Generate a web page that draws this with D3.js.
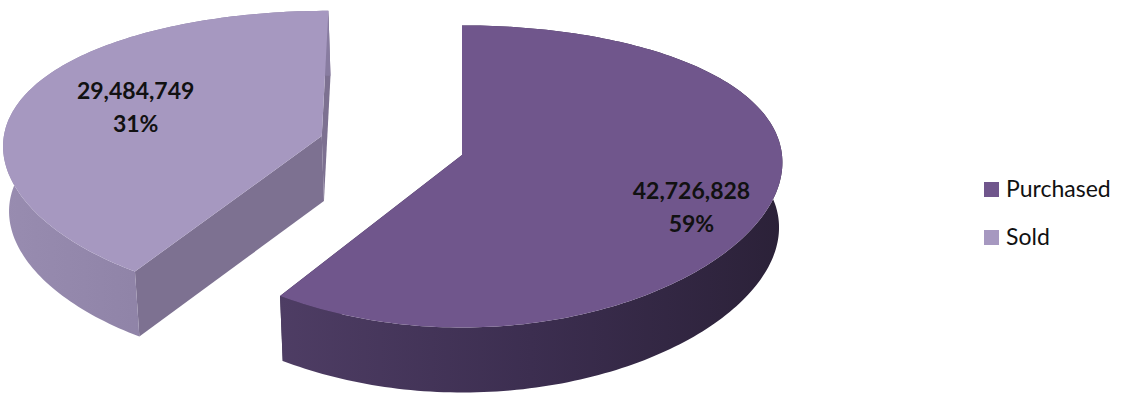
<!DOCTYPE html>
<html>
<head>
<meta charset="utf-8">
<script src="https://cdnjs.cloudflare.com/ajax/libs/d3/7.8.5/d3.min.js"></script>
<style>
  body { margin: 0; background: #fff; }
  #chart { width: 1137px; height: 396px; }
  .label { font-family: Lato, "Open Sans", sans-serif; font-weight: bold; font-size: 23px; fill: #111; }
  .legend text { font-family: Lato, "Open Sans", sans-serif; font-size: 23px; fill: #111; }
</style>
</head>
<body>
<div id="chart"></div>
<script>
// data
var categories = ["Purchased", "Sold"];
var values = [42726828, 29484749];
var percentLabels = ["59%", "31%"];
var explode = [0, 0.46];

var topColors = ["#70568c", "#a698c0"];
var sideColors = [["#4e3d64", "#3c2e50", "#2b2138"], ["#988cb0", "#8e82a6", "#887ca0"]];
var wallColors = ["#3a2c4c", "#7d7191"];

function draw() {
    var width = 1137, height = 396;

    // pseudo 3D projection of the pie disc
    var cx = 462, cy = 155, RX = 320, RZ = 148, PX = 0.05, PY = 0.142, H = 65;
    function proj(X, Z, bottom) {
        var fx = 1 / (1 - PX * Z), fy = 1 / (1 - PY * Z);
        var x = cx + RX * X * fx, y = cy + RZ * Z * fy;
        if (bottom) { y += H; x += (cx + 40 - x) * 0.012; }
        return [x, y];
    }
    function rimPt(a, r, off, bottom) {
        return proj(off.x + r * Math.sin(a), off.z - r * Math.cos(a), bottom);
    }
    function arcPts(a0, a1, off, bottom) {
        var n = Math.max(2, Math.ceil(Math.abs(a1 - a0) / 0.02)), pts = [];
        for (var i = 0; i <= n; i++) pts.push(rimPt(a0 + (a1 - a0) * i / n, 1, off, bottom));
        return pts;
    }
    var line = d3.line();

    var svg = d3.select("#chart").append("svg")
        .attr("width", width)
        .attr("height", height);
    var defs = svg.append("defs");

    var pie = d3.pie().sort(null).startAngle(0).endAngle(2 * Math.PI);
    var arcs = pie(values).map(function(d, i) {
        var mid = (d.startAngle + d.endAngle) / 2;
        d.off = { x: explode[i] * Math.sin(mid), z: -explode[i] * Math.cos(mid) };
        d.mid = mid;
        d.i = i;
        return d;
    });

    // paint back-left (exploded) slice first
    var order = arcs.slice().sort(function(a, b) { return explode[b.i] - explode[a.i]; });

    order.forEach(function(d) {
        var i = d.i, off = d.off;
        var g = svg.append("g").attr("class", "slice s-" + i);

        var apexT = proj(off.x, off.z, false), apexB = proj(off.x, off.z, true);

        // radial walls
        [d.startAngle, d.endAngle].forEach(function(a) {
            var rt = rimPt(a, 1, off, false), rb = rimPt(a, 1, off, true);
            g.append("path")
                .attr("d", line([apexT, rt, rb, apexB]) + "Z")
                .attr("fill", wallColors[i]);
        });

        // outer rim side
        var topArc = arcPts(d.startAngle, d.endAngle, off, false);
        var botArc = arcPts(d.startAngle, d.endAngle, off, true).reverse();
        var xs = topArc.map(function(p) { return p[0]; });
        var gid = "side-" + i;
        var grad = defs.append("linearGradient").attr("id", gid)
            .attr("gradientUnits", "userSpaceOnUse")
            .attr("x1", d3.min(xs)).attr("x2", d3.max(xs)).attr("y1", 0).attr("y2", 0);
        sideColors[i].forEach(function(c, k) {
            grad.append("stop").attr("offset", (k / (sideColors[i].length - 1) * 100) + "%").attr("stop-color", c);
        });
        g.append("path")
            .attr("d", line(topArc.concat(botArc)) + "Z")
            .attr("fill", "url(#" + gid + ")");

        // top face
        g.append("path")
            .attr("d", line([apexT].concat(topArc)) + "Z")
            .attr("fill", topColors[i]);
    });

    // data labels
    var fmt = d3.format(",");
    var labelR = [0.74, 0.62], labelDy = [12, -12];
    arcs.forEach(function(d) {
        var r = labelR[d.i];
        var p = proj(d.off.x + r * Math.sin(d.mid), d.off.z - r * Math.cos(d.mid), false);
        var t = svg.append("text").attr("class", "label")
            .attr("text-anchor", "middle")
            .attr("x", p[0]).attr("y", p[1] + labelDy[d.i]);
        t.append("tspan").attr("x", p[0]).attr("dy", 0).text(fmt(values[d.i]));
        t.append("tspan").attr("x", p[0]).attr("dy", 33).text(percentLabels[d.i]);
    });

    // legend
    var legend = svg.append("g").attr("class", "legend")
        .attr("transform", "translate(984,182)");
    var item = legend.selectAll("g").data(categories).enter().append("g")
        .attr("transform", function(d, i) { return "translate(0," + (i * 48) + ")"; });
    item.append("rect")
        .attr("width", 15).attr("height", 15)
        .attr("fill", function(d, i) { return topColors[i]; });
    item.append("text")
        .attr("x", 22).attr("y", 15)
        .text(function(d) { return d; });
}
draw();
</script>
</body>
</html>
